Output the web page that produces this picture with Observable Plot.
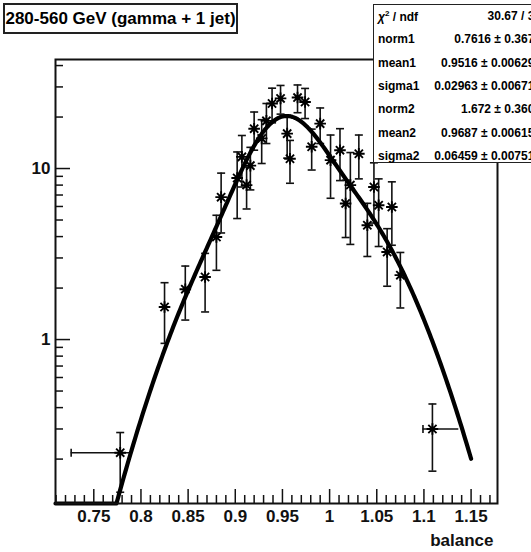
<!DOCTYPE html>
<html>
<head>
<meta charset="utf-8">
<script src="https://cdn.jsdelivr.net/npm/d3@7"></script>
<script src="https://cdn.jsdelivr.net/npm/@observablehq/plot@0.6"></script>
<style>
  html, body { margin: 0; padding: 0; background: #fff; }
  #wrap { position: relative; width: 531px; height: 552px; overflow: hidden;
          font-family: "Liberation Sans", Arial, Helvetica, sans-serif; }
  #wrap svg { position: absolute; left: 0; top: 0; }
  #title { position: absolute; left: 3px; top: 3px; width: 231px; height: 27px;
           border: 2px solid #222; background: #fff; font-weight: bold; font-size: 17px;
           line-height: 28px; text-align: center; white-space: nowrap; }
  #stats { position: absolute; left: 373px; top: 4px; width: 200px; height: 157px;
           border: 1.5px solid #222; background: #fff; font-weight: bold; font-size: 12px; }
  #stats .lab { position: absolute; left: 4px; white-space: nowrap; transform: translateY(-50%); }
  #stats .val { position: absolute; right: 33px; white-space: nowrap; transform: translateY(-50%); }
  #stats sup { font-size: 8px; }
</style>
</head>
<body>
<div id="wrap">
  <div id="chart"></div>
  <div id="title">280-560 GeV (gamma + 1 jet)</div>
  <div id="stats"></div>
</div>
<script>
// Measured photon+jet balance, one entry per bin
const balance  = [0.778, 0.825, 0.847, 0.868, 0.880, 0.885, 0.902, 0.907, 0.912, 0.916,
                  0.920, 0.928, 0.933, 0.939, 0.948, 0.955, 0.958, 0.966, 0.974, 0.981,
                  0.990, 1.001, 1.011, 1.017, 1.022, 1.031, 1.040, 1.047, 1.052, 1.061,
                  1.066, 1.075, 1.109];
const entries  = [0.218, 1.55, 1.97, 2.32, 3.98, 6.8, 8.8, 11.7, 8.0, 10.4,
                  17.1, 15.0, 19.0, 24.0, 25.7, 16.0, 11.4, 26.0, 24.5, 13.4,
                  18.3, 11.2, 12.8, 6.25, 8.0, 12.2, 4.66, 7.8, 6.1, 3.25,
                  5.96, 2.38, 0.30];
const errUp    = [0.068, 0.6, 0.72, 0.87, 1.35, 2.6, 3.7, 3.9, 2.2, 2.9,
                  4.3, 4.3, 5.0, 5.5, 4.9, 4.5, 3.2, 4.8, 4.9, 3.6,
                  4.3, 4.5, 4.3, 2.3, 4.4, 3.5, 1.6, 3.0, 2.6, 1.2,
                  2.4, 0.85, 0.12];
const errDown  = [0.09, 0.6, 0.67, 0.87, 1.44, 2.6, 3.7, 3.9, 2.2, 2.9,
                  4.3, 4.3, 5.0, 5.5, 4.9, 4.5, 3.2, 4.8, 4.9, 3.6,
                  4.3, 4.5, 4.3, 2.3, 4.4, 3.5, 1.6, 3.0, 2.6, 1.2,
                  2.4, 0.85, 0.13];
// Horizontal extent of the two wide bins
const wideBinCenter = [0.778, 1.109];
const wideBinLow    = [0.726, 1.099];
const wideBinHigh   = [0.790, 1.137];
const wideBinValue  = [0.218, 0.30];

// Double-Gaussian fit result
const fitNames  = ["norm1", "mean1", "sigma1", "norm2", "mean2", "sigma2"];
const fitValues = [0.7616, 0.9516, 0.02963, 1.672, 0.9687, 0.06459];
const fitErrors = ["0.3674", "0.006292", "0.006714", "0.3602", "0.006158", "0.007515"];
const chi2 = 30.67, ndf = 34;
const fitRange = [0.7094, 1.15];

// Axis ticks
const xLabels = [0.75, 0.8, 0.85, 0.9, 0.95, 1, 1.05, 1.1, 1.15];
const xMinor  = d3.range(71, 118).map(i => i / 100).filter(v => Math.round(v * 100) % 5 !== 0);
const yLabels = [1, 10];
const yMinor  = [0.2, 0.3, 0.4, 0.5, 0.6, 0.7, 0.8, 0.9, 2, 3, 4, 5, 6, 7, 8, 9, 20, 30, 40];

const W = 531, H = 552;
const mL = 55, mR = 34, mT = 59, mB = 49;
const innerW = W - mL - mR, innerH = H - mT - mB;
const yMin = 0.11, yMax = 43.4;

const points = balance.map((x, i) => ({
  x, y: entries[i], lo: entries[i] - errDown[i], hi: entries[i] + errUp[i]
}));
const wide = wideBinCenter.map((x, i) => ({x, lo: wideBinLow[i], hi: wideBinHigh[i], y: wideBinValue[i]}));

// Fit function: sum of two normalised Gaussians
function fitFn(x) {
  const [n1, m1, s1, n2, m2, s2] = fitValues;
  const g = (n, m, s) => n / (Math.sqrt(2 * Math.PI) * s) * Math.exp(-0.5 * ((x - m) / s) ** 2);
  return g(n1, m1, s1) + g(n2, m2, s2);
}
const curve = d3.range(0, 301).map(i => {
  const x = fitRange[0] + (fitRange[1] - fitRange[0]) * i / 300;
  return {x, y: Math.max(fitFn(x), yMin)};
});

// ROOT-like asterisk marker and error-bar end caps
const asterisk = {draw(ctx, size) {
  const r = Math.sqrt(size / Math.PI), d = r * Math.SQRT1_2;
  ctx.moveTo(-r, 0); ctx.lineTo(r, 0);
  ctx.moveTo(0, -r); ctx.lineTo(0, r);
  ctx.moveTo(-d, -d); ctx.lineTo(d, d);
  ctx.moveTo(-d, d); ctx.lineTo(d, -d);
}};
const hCap = {draw(ctx) { ctx.moveTo(-4, 0); ctx.lineTo(4, 0); }};
const vCap = {draw(ctx) { ctx.moveTo(0, -4); ctx.lineTo(0, 4); }};

const chart = Plot.plot({
  width: W, height: H,
  marginLeft: mL, marginRight: mR, marginTop: mT, marginBottom: mB,
  style: {fontFamily: "'Liberation Sans', Arial, Helvetica, sans-serif", background: "transparent"},
  x: {domain: [0.7094, 1.178]},
  y: {type: "log", domain: [yMin, yMax]},
  marks: [
    // error bars
    Plot.ruleX(points, {x: "x", y1: "lo", y2: "hi", stroke: "#111", strokeWidth: 1.6, clip: true}),
    Plot.dot(points, {x: "x", y: "hi", symbol: hCap, stroke: "#111", strokeWidth: 1.6}),
    Plot.dot(points.filter(d => d.lo > yMin), {x: "x", y: "lo", symbol: hCap, stroke: "#111", strokeWidth: 1.6}),
    Plot.ruleY(wide, {y: "y", x1: "lo", x2: "hi", stroke: "#111", strokeWidth: 1.6}),
    Plot.dot(wide, {x: "lo", y: "y", symbol: vCap, stroke: "#111", strokeWidth: 1.6}),
    // data markers
    Plot.dot(points, {x: "x", y: "y", symbol: asterisk, r: 5.8, stroke: "#000", strokeWidth: 1.9}),
    // fit curve
    Plot.line(curve, {x: "x", y: "y", stroke: "#000", strokeWidth: 4.2}),
    // frame and inward ticks
    Plot.frame({stroke: "#111", strokeWidth: 2}),
    Plot.tickX(xMinor, {x: d => d, insetTop: innerH - 8, stroke: "#111", strokeWidth: 1.5}),
    Plot.tickX(xLabels, {x: d => d, insetTop: innerH - 14, stroke: "#111", strokeWidth: 1.5}),
    Plot.tickY(yMinor, {y: d => d, insetRight: innerW - 8, stroke: "#111", strokeWidth: 1.5}),
    Plot.tickY(yLabels, {y: d => d, insetRight: innerW - 15, stroke: "#111", strokeWidth: 1.5}),
    Plot.axisX({ticks: xLabels, tickSize: 0, tickPadding: 6, tickFormat: d => String(d),
                fontSize: 17, fontWeight: "bold", fill: "#111", label: null}),
    Plot.axisY({ticks: yLabels, tickSize: 0, tickPadding: 5, tickFormat: d => String(d),
                fontSize: 17, fontWeight: "bold", fill: "#111", label: null}),
    Plot.text(["balance"], {frameAnchor: "bottom-right", dx: -4, dy: 37, textAnchor: "end",
                            lineAnchor: "middle", fontSize: 17, fontWeight: "bold", fill: "#111"})
  ]
});
document.getElementById("chart").appendChild(chart);

// Fit statistics box
const stats = document.getElementById("stats");
const rows = [[`<i>χ</i><sup>2</sup> / ndf`, `${chi2} / ${ndf}`]]
  .concat(fitNames.map((n, i) => [n, `${fitValues[i]} ± ${fitErrors[i]}`]));
rows.forEach(([lab, val], i) => {
  const top = 11 + 23.3 * i;
  stats.insertAdjacentHTML("beforeend",
    `<span class="lab" style="top:${top}px">${lab}</span><span class="val" style="top:${top}px">${val}</span>`);
});
</script>
</body>
</html>
